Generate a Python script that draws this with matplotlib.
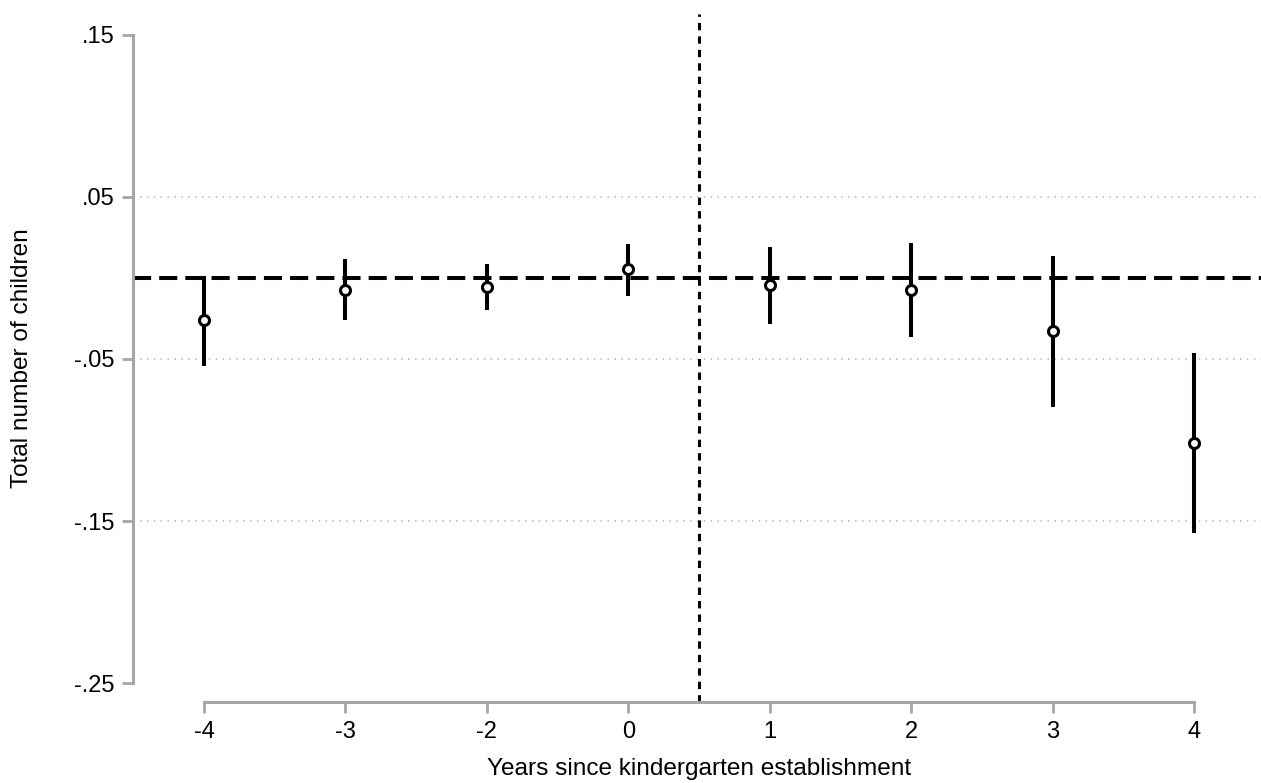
import matplotlib
matplotlib.use("Agg")
import matplotlib.pyplot as plt
import numpy as np

# Data
categories = ["-4", "-3", "-2", "0", "1", "2", "3", "4"]
estimates = [-0.0260, -0.0075, -0.0055, 0.0054, -0.0044, -0.0075, -0.0329, -0.1016]
ci_upper = [0.0011, 0.0114, 0.0085, 0.0209, 0.0189, 0.0213, 0.0135, -0.0461]
ci_lower = [-0.0542, -0.0261, -0.0199, -0.0110, -0.0284, -0.0365, -0.0794, -0.1575]
yticks = [0.15, 0.05, -0.05, -0.15, -0.25]
ytick_labels = [".15", ".05", "-.05", "-.15", "-.25"]
event_line = 3.5  # between 0 and 1
ref_y = 0.0

plt.rcParams['font.family'] = ['Liberation Sans', 'DejaVu Sans']

W, H = 1261, 783
fig = plt.figure(figsize=(W / 100, H / 100), dpi=100)
left, right, top, bottom = 133, 1261, 14, 701.7
ax = fig.add_axes([left / W, (H - bottom) / H, (right - left) / W, (bottom - top) / H])

x = np.arange(len(categories))
est = np.array(estimates)
lo = np.array(ci_lower)
hi = np.array(ci_upper)

# gridlines (interior ticks only)
for yv in yticks[1:-1]:
    ax.axhline(yv, color="#b4b4b4", lw=1.1, ls=(0, (1, 3.5)), zorder=1, xmin=0.006)

# reference lines
ax.axhline(ref_y, color="black", lw=2.9, ls=(0, (4.5, 2)), zorder=2)
ax.axvline(event_line, color="black", lw=2.2, ls=(0, (2.4, 2.0)), zorder=2)

# CIs and points
ax.vlines(x, lo, hi, color="black", lw=2.9, zorder=3)
ax.plot(x, est, ls="none", marker="o", ms=7.2, mfc="white", mec="black", mew=2.2, zorder=4)

ax.set_xlim(-0.502, 7.474)
ax.set_ylim(-0.26134, 0.16264)

for s in ["top", "right"]:
    ax.spines[s].set_visible(False)
for s in ["left", "bottom"]:
    ax.spines[s].set_color("#a6a6a6")
    ax.spines[s].set_linewidth(2.2)
ax.spines["left"].set_bounds(-0.25, 0.15)
ax.spines["bottom"].set_bounds(0, 7)

ax.set_yticks(yticks)
ax.set_yticklabels(ytick_labels)
ax.set_xticks(x)
ax.set_xticklabels(categories)
ax.tick_params(axis="both", colors="#a6a6a6", width=2.0, length=8, labelsize=17, labelcolor="black")
ax.tick_params(axis="y", pad=5)
ax.tick_params(axis="x", pad=6)

fig.text(22 / W, 1 - 358 / H, "Total number of children", rotation=90, ha="center", va="center", fontsize=17.6)
fig.text(699 / W, 1 - 769 / H, "Years since kindergarten establishment", ha="center", va="center", fontsize=17.6)

fig.savefig("out.png", dpi=100, facecolor="white")
